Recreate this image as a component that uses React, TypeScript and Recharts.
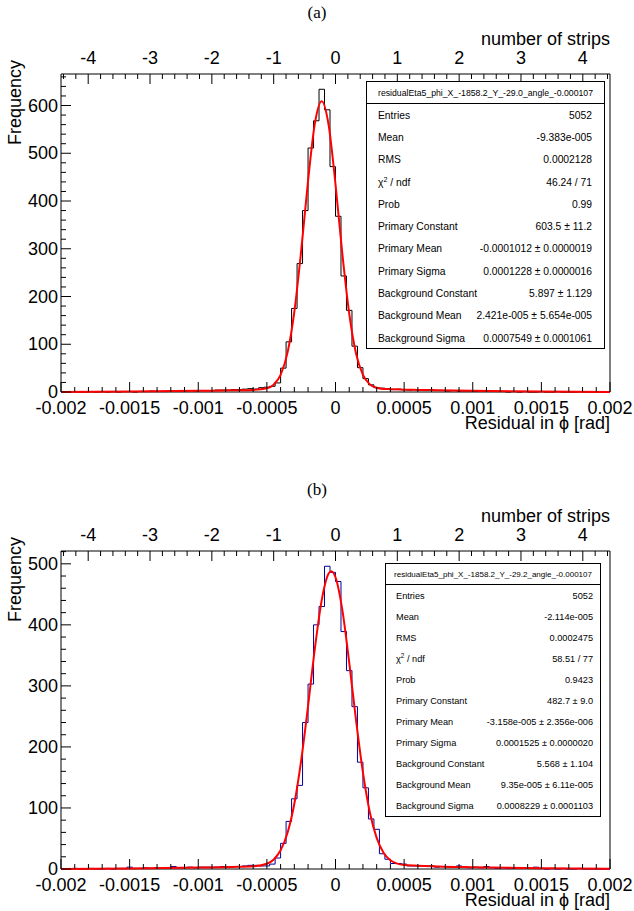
import React from 'react'
import { ComposedChart, Line, XAxis, YAxis, ReferenceArea, Label } from 'recharts'

// x is in units of 1e-5 rad; 100 bins of 4e-5 rad from -0.002 to 0.002
const BIN_LO = -200
const BIN_W = 4

const countsA = [
  0, 0, 1, 0, 0, 1, 0, 1, 0, 1, 0, 1, 1, 0, 1, 1, 2, 1, 1, 2,
  2, 1, 2, 3, 2, 3, 3, 3, 4, 4, 4, 5, 5, 6, 7, 6, 9, 10, 12, 19,
  50, 105, 175, 269, 380, 511, 568, 634, 591, 472, 368, 243, 171, 96, 51, 28, 15, 9, 8, 7,
  5, 6, 5, 4, 5, 4, 3, 4, 3, 3, 2, 3, 2, 2, 2, 1, 2, 1, 1, 1,
  1, 0, 1, 0, 1, 0, 0, 1, 0, 0, 1, 0, 0, 0, 1, 0, 0, 0, 0, 0,
]

const countsB = [
  0, 0, 1, 0, 0, 1, 0, 0, 1, 0, 1, 1, 3, 1, 1, 2, 1, 2, 1, 2,
  4, 2, 2, 3, 2, 3, 3, 3, 3, 4, 3, 4, 4, 5, 6, 6, 5, 5, 8, 18,
  42, 78, 115, 137, 240, 303, 400, 430, 496, 486, 471, 389, 325, 266, 175, 133, 82, 65, 25, 16,
  9, 9, 8, 5, 5, 5, 5, 5, 3, 4, 3, 3, 5, 3, 2, 3, 2, 4, 2, 1,
  2, 1, 1, 2, 1, 1, 3, 1, 0, 1, 0, 1, 0, 0, 1, 0, 0, 0, 0, 0,
]

// red fit curves
const fitXA = [-200, -150, -100, -75, -60, -50, -45, -40, -35, -30, -25, -20, -15, -10, -5, 0, 5, 10, 15, 20, 25, 30, 35, 40, 50, 60, 75, 100, 150, 200]
const fitYA = [0.2, 0.8, 2.4, 3.5, 4.4, 7.7, 15.5, 36, 82, 168, 296, 442, 563, 609, 559, 435, 289, 164, 80, 36, 16, 8.8, 6.5, 5.9, 4.8, 4.4, 3.7, 2.6, 0.9, 0.2]

const fitXB = [-200, -150, -100, -75, -60, -50, -45, -40, -35, -30, -25, -20, -15, -10, -5, -3, 0, 5, 10, 15, 20, 25, 30, 35, 40, 45, 50, 60, 75, 100, 150, 200]
const fitYB = [0.2, 0.9, 2.3, 3.3, 4.4, 8.6, 15.7, 30.6, 59, 107, 178, 267, 362, 441, 484, 488, 478, 424, 338, 243, 158, 93, 51, 26.7, 14.4, 8.8, 6.6, 5.5, 4.1, 3.0, 1.3, 0.4]

const resMajor = [-200, -150, -100, -50, 0, 50, 100, 150, 200]
const stripMajor = [-40, -30, -20, -10, 0, 10, 20, 30, 40] // tenths of a strip
const STRIP_EDGE = 44.4 // frame edge in tenths of a strip
const yMajorA = [0, 100, 200, 300, 400, 500, 600]
const yMajorB = [0, 100, 200, 300, 400, 500]

const statsA = [
  ['Entries', '5052'],
  ['Mean', '-9.383e-005'],
  ['RMS', '0.0002128'],
  ['chi2', '46.24 / 71'],
  ['Prob', '0.99'],
  ['Primary Constant', '603.5 ± 11.2'],
  ['Primary Mean', '-0.0001012 ± 0.0000019'],
  ['Primary Sigma', '0.0001228 ± 0.0000016'],
  ['Background Constant', '5.897 ± 1.129'],
  ['Background Mean', '2.421e-005 ± 5.654e-005'],
  ['Background Sigma', '0.0007549 ± 0.0001061'],
]

const statsB = [
  ['Entries', '5052'],
  ['Mean', '-2.114e-005'],
  ['RMS', '0.0002475'],
  ['chi2', '58.51 / 77'],
  ['Prob', '0.9423'],
  ['Primary Constant', '482.7 ± 9.0'],
  ['Primary Mean', '-3.158e-005 ± 2.356e-006'],
  ['Primary Sigma', '0.0001525 ± 0.0000020'],
  ['Background Constant', '5.568 ± 1.104'],
  ['Background Mean', '9.35e-005 ± 6.11e-005'],
  ['Background Sigma', '0.0008229 ± 0.0001103'],
]

const FONT = '"Liberation Sans", Arial, Helvetica, sans-serif'

const range = (lo: number, hi: number, step: number) => {
  const out: number[] = []
  for (let v = lo; v <= hi; v += step) out.push(v)
  return out
}

function histData(counts: number[]) {
  const pts = counts.map((c, i) => ({ x: BIN_LO + i * BIN_W, y: c }))
  pts.push({ x: BIN_LO + counts.length * BIN_W, y: counts[counts.length - 1] })
  return pts
}

const fmtRes = (v: number) => String(v / 1e5)

function BottomTick(p: any) {
  const v = p.payload.value
  const major = resMajor.includes(v)
  return (
    <g>
      <line x1={p.x} x2={p.x} y1={p.y} y2={p.y - (major ? 10 : 5)} stroke="#000" />
      {major && (
        <text x={p.x} y={p.y + 22} textAnchor="middle" fontSize={18} fontFamily={FONT} fill="#000">
          {fmtRes(v)}
        </text>
      )}
    </g>
  )
}

function TopTick(p: any) {
  const v = p.payload.value
  const major = stripMajor.includes(v)
  return (
    <g>
      <line x1={p.x} x2={p.x} y1={p.y} y2={p.y + (major ? 10 : 5)} stroke="#000" />
      {major && (
        <text x={p.x} y={p.y - 10} textAnchor="middle" fontSize={18} fontFamily={FONT} fill="#000">
          {String(v / 10)}
        </text>
      )}
    </g>
  )
}

function makeLeftTick(majors: number[]) {
  return (p: any) => {
    const v = p.payload.value
    const major = majors.includes(v)
    return (
      <g>
        <line x1={p.x} x2={p.x + (major ? 10 : 5)} y1={p.y} y2={p.y} stroke="#000" />
        {major && (
          <text x={p.x - 3} y={p.y + 6} textAnchor="end" fontSize={18} fontFamily={FONT} fill="#000">
            {v}
          </text>
        )}
      </g>
    )
  }
}

function StatsBox({ title, rows, box }: any) {
  return (
    <div
      style={{
        position: 'absolute', left: box.left, top: box.top, width: box.width, height: box.height,
        border: '1px solid #000', background: '#fff', boxSizing: 'border-box', fontFamily: FONT, color: '#000',
      }}
    >
      <div
        style={{
          height: box.titleH, borderBottom: '1px solid #000', fontSize: box.titleFs, whiteSpace: 'nowrap',
          display: 'flex', alignItems: 'center', justifyContent: 'center', boxSizing: 'border-box',
        }}
      >
        {title}
      </div>
      {rows.map(([k, v]: string[]) => (
        <div
          key={k}
          style={{
            height: box.rowH, display: 'flex', alignItems: 'center', justifyContent: 'space-between',
            padding: `0 ${box.padR}px 0 ${box.padL}px`, fontSize: box.fs, whiteSpace: 'nowrap',
          }}
        >
          <span>
            {k === 'chi2' ? (
              <>
                χ<sup style={{ fontSize: '0.7em', lineHeight: 0 }}>2</sup> / ndf
              </>
            ) : (
              k
            )}
          </span>
          <span>{v}</span>
        </div>
      ))}
    </div>
  )
}

function Panel({ top, label, counts, color, fitX, fitY, ymax, yMajor, statsTitle, stats, box }: any) {
  const hist = histData(counts)
  const fit = fitX.map((x: number, i: number) => ({ x, y: fitY[i] }))
  // invisible series so the strip axis is laid out
  const stripSpan = [{ s: -STRIP_EDGE, y: 0 }, { s: STRIP_EDGE, y: 0 }]
  const yTicks = range(0, ymax, 20)
  return (
    <div style={{ position: 'absolute', left: 0, top, width: 634, height: 460 }}>
      <div
        style={{
          position: 'absolute', left: 0, top: 3, width: 634, textAlign: 'center',
          fontFamily: '"Liberation Serif", "Times New Roman", serif', fontSize: 17,
        }}
      >
        {label}
      </div>
      <ComposedChart width={634} height={460} margin={{ top: 30, right: 24, bottom: 28, left: 0 }}>
        <XAxis
          xAxisId="res" dataKey="x" type="number" domain={[-200, 200]} ticks={range(-200, 200, 10)}
          interval={0} tickSize={0} tickMargin={0} axisLine={false} tick={BottomTick} height={40}
        >
          <Label
            content={(p: any) => (
              <text
                x={p.viewBox.x + p.viewBox.width} y={p.viewBox.y + 37} textAnchor="end"
                fontSize={18} fontFamily={FONT} fill="#000"
              >
                Residual in ϕ [rad]
              </text>
            )}
          />
        </XAxis>
        <XAxis
          xAxisId="strip" dataKey="s" orientation="top" type="number" domain={[-STRIP_EDGE, STRIP_EDGE]}
          ticks={range(-44, 44, 2)} interval={0} tickSize={0} tickMargin={0} axisLine={false}
          tick={TopTick} height={44} allowDataOverflow
        >
          <Label
            content={(p: any) => (
              <text
                x={p.viewBox.x + p.viewBox.width} y={p.viewBox.y + 15} textAnchor="end"
                fontSize={18} fontFamily={FONT} fill="#000"
              >
                number of strips
              </text>
            )}
          />
        </XAxis>
        <YAxis
          yAxisId="freq" type="number" domain={[0, ymax]} ticks={yTicks} interval={0}
          tickSize={0} tickMargin={0} axisLine={false} tick={makeLeftTick(yMajor)} width={61}
        >
          <Label
            content={(p: any) => (
              <text
                x={p.viewBox.x + 21} y={p.viewBox.y - 14} textAnchor="end" transform={`rotate(-90 ${p.viewBox.x + 21} ${p.viewBox.y - 14})`}
                fontSize={18} fontFamily={FONT} fill="#000"
              >
                Frequency
              </text>
            )}
          />
        </YAxis>
        <Line
          xAxisId="strip" yAxisId="freq" data={stripSpan} dataKey="y" stroke="none"
          dot={false} activeDot={false} isAnimationActive={false}
        />
        <Line
          xAxisId="res" yAxisId="freq" data={hist} dataKey="y" type="stepAfter" stroke={color}
          strokeWidth={1} dot={false} activeDot={false} isAnimationActive={false}
        />
        <Line
          xAxisId="res" yAxisId="freq" data={fit} dataKey="y" type="monotone" stroke="#ff0000"
          strokeWidth={2} dot={false} activeDot={false} isAnimationActive={false}
        />
        <ReferenceArea
          xAxisId="res" yAxisId="freq" x1={-200} x2={200} y1={0} y2={ymax}
          fill="none" fillOpacity={0} stroke="#000" strokeWidth={1} ifOverflow="visible"
        />
      </ComposedChart>
      <StatsBox title={statsTitle} rows={stats} box={box} />
    </div>
  )
}

export default function App() {
  return (
    <div style={{ position: 'relative', width: 634, height: 911, background: '#fff' }}>
      <style>{'body{margin:0}'}</style>
      <Panel
        top={0} label="(a)" counts={countsA} color="#000000" fitX={fitXA} fitY={fitYA} ymax={666} yMajor={yMajorA}
        statsTitle="residualEta5_phi_X_-1858.2_Y_-29.0_angle_-0.000107" stats={statsA}
        box={{ left: 366, top: 81, width: 239, height: 268, titleH: 22, rowH: 22.3, fs: 10.3, titleFs: 8.7, padL: 11, padR: 12 }}
      />
      <Panel
        top={477} label="(b)" counts={countsB} color="#000099" fitX={fitXB} fitY={fitYB} ymax={521} yMajor={yMajorB}
        statsTitle="residualEta5_phi_X_-1858.2_Y_-29.2_angle_-0.000107" stats={statsB}
        box={{ left: 385, top: 86, width: 216, height: 254, titleH: 21, rowH: 21.1, fs: 9.2, titleFs: 8, padL: 10, padR: 7 }}
      />
    </div>
  )
}
